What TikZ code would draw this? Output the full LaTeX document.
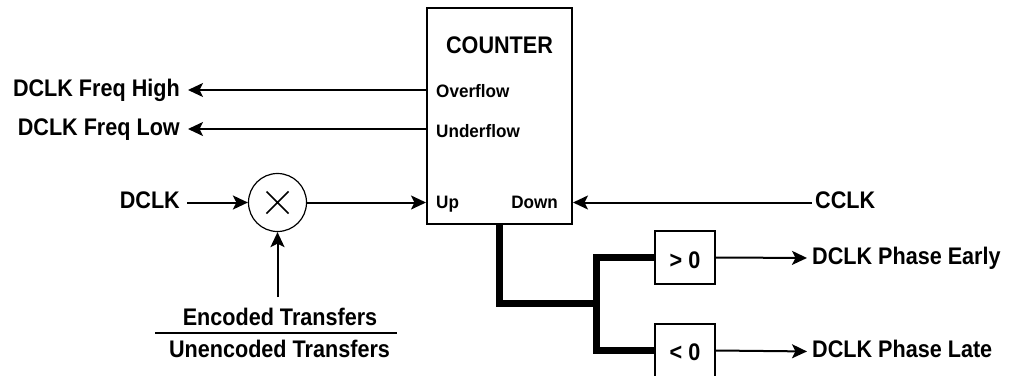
\documentclass[tikz,border=0pt]{standalone}
\usepackage{fontspec}
\newfontfamily\lblfont{Liberation Sans}[FakeStretch=0.9]
\newfontfamily\portfont{Liberation Sans}[FakeStretch=0.95]
\usetikzlibrary{arrows.meta,calc}
\begin{document}
\begin{tikzpicture}[x=1pt,y=-1pt,
  every node/.style={inner sep=0pt},
  lbl/.style={font=\lblfont\bfseries\fontsize{24}{28}\selectfont, text height=17pt, text depth=5pt},
  port/.style={font=\portfont\bfseries\fontsize{18}{21}\selectfont},
  wire/.style={line width=2pt},
  arr/.style={wire, -{Stealth[length=15pt,width=14pt,inset=3.5pt]}},
  blk/.style={draw, line width=2pt},
  bus/.style={line width=7pt, line join=miter, line cap=butt}]
\useasboundingbox (0,0) rectangle (1009,375);

% counter block with its port labels
\node[blk, minimum width=145pt, minimum height=216pt] (counter) at (499.5,116) {};
\node[lbl, text height=0pt, text depth=0pt, anchor=base] (ctitle) at (499.5,53) {COUNTER};
\node[port, anchor=base west] (ovf) at (436,97) {Overflow};
\node[port, anchor=base west] (udf) at (436,137) {Underflow};
\node[port, anchor=base west] (up) at (436,208) {Up};
\node[port, anchor=base east] (down) at (558,208) {Down};

% frequency outputs
\node[lbl, anchor=east] (fhigh) at (180,90) {DCLK Freq High};
\node[lbl, anchor=east] (flow) at (180,129) {DCLK Freq Low};
\draw[arr, shorten >=8pt] (counter.west |- fhigh.east) -- (fhigh.east);
\draw[arr, shorten >=8pt] (counter.west |- flow.east) -- (flow.east);

% multiplier on the DCLK path
\node[draw, circle, line width=1.2pt, minimum size=58pt] (mult) at (277.5,202.5) {};
\draw[line width=1.5pt] ($(mult)+(-11,-11)$) -- ($(mult)+(11,11)$)
                        ($(mult)+(-11,11)$) -- ($(mult)+(11,-11)$);
\node[lbl, anchor=east] (dclk) at (180,202.5) {DCLK};
\draw[arr, shorten <=7pt] (dclk.east) -- (mult.west);
\draw[arr] (mult.east) -- (counter.west |- mult.east);

% ratio feeding the multiplier
\node[lbl, text height=0pt, text depth=0pt, anchor=base] (enc) at (280,325) {Encoded Transfers};
\node[lbl, text height=0pt, text depth=0pt, anchor=base] (unenc) at (279.5,357) {Unencoded Transfers};
\draw[line width=2pt] (155,333) -- (397,333);
\draw[arr] (mult.south |- 0,297) -- (mult.south);

% CCLK input
\node[lbl, anchor=west] (cclk) at (815,202.5) {CCLK};
\draw[arr, shorten <=3pt] (cclk.west) -- (counter.east |- cclk.west);

% sign comparators
\node[blk, minimum width=60pt, minimum height=53pt] (gt) at (685,257.5) {};
\node[lbl, text height=0pt, text depth=0pt, anchor=base] (gtt) at (685,268) {> 0};
\node[blk, minimum width=60pt, minimum height=53pt] (lt) at (685,350.5) {};
\node[lbl, text height=0pt, text depth=0pt, anchor=base] (ltt) at (685,360) {< 0};
\coordinate (jn) at (596.5,303);
\draw[bus] (counter.south) |- (jn);
\draw[bus] (gt.west) -| (jn) |- (lt.west);

% phase outputs
\node[lbl, anchor=west] (early) at (812,258) {DCLK Phase Early};
\node[lbl, anchor=west] (late) at (812,351.5) {DCLK Phase Late};
\draw[arr, shorten >=5pt] (gt.east) -- (early.west);
\draw[arr, shorten >=5pt] (lt.east) -- (late.west);
\end{tikzpicture}
\end{document}
